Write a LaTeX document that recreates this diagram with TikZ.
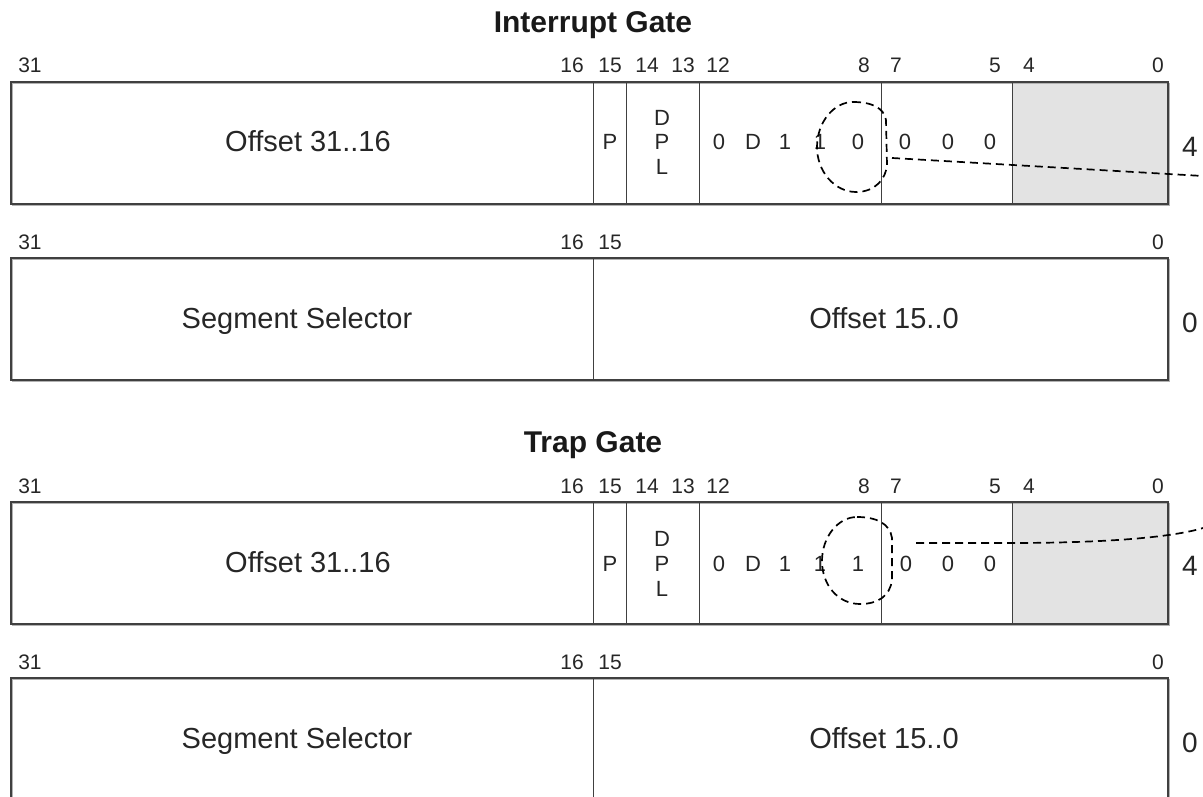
\documentclass[tikz,border=0pt]{standalone}
\usepackage{fontspec}
\setmainfont{Liberation Sans}
\begin{document}
\begin{tikzpicture}[x=1pt,y=-1pt,
  frame/.style={draw=black!75, line width=1.1pt},
  shade/.style={draw=black!30, line width=1.4pt},
  divider/.style={draw=black!75, line width=0.9pt},
  reserved/.style={fill=black!11},
  bits/.style={font=\fontsize{21}{24}\selectfont, text=black!85, inner sep=0, anchor=base},
  field/.style={font=\fontsize{29}{32}\selectfont, text=black!85, inner sep=0, anchor=base},
  small/.style={font=\fontsize{22}{26}\selectfont, text=black!85, inner sep=0, anchor=base},
  side/.style={font=\fontsize{28}{32}\selectfont, text=black!85, inner sep=0, anchor=base},
  title/.style={font=\bfseries\fontsize{30}{34}\selectfont, text=black!90, inner sep=0, anchor=base},
  flag/.style={draw=black, line width=1.7pt, dash pattern=on 8pt off 5pt}]
\useasboundingbox (0,0) rectangle (1203,797);
\clip (0,0) rectangle (1203,797);

% ---------------- titles
\node[title] (title1) at (593,33) {Interrupt Gate};
\node[title] (title2) at (593,452) {Trap Gate};

% ================= Interrupt gate, upper dword (top 82)
\fill[reserved] (1012,82) rectangle (1168,204);
\draw[shade] (12.5,83.5) rectangle (1169.5,205.5);
\draw[frame] (11,82) rectangle (1168,204);
\foreach \xx in {593,626.5,699,881,1012} \draw[divider] (\xx,82) -- (\xx,204);
\node[bits] (a31) at (30,73) {31};
\node[bits] (a16) at (572,73) {16};
\node[bits] (a15) at (610,73) {15};
\node[bits] (a14) at (647,73) {14};
\node[bits] (a13) at (683,73) {13};
\node[bits] (a12) at (718,73) {12};
\node[bits] (a8) at (864,73) {8};
\node[bits] (a7) at (896,73) {7};
\node[bits] (a5) at (995,73) {5};
\node[bits] (a4) at (1029,73) {4};
\node[bits] (a0) at (1158,73) {0};
\node[field] (aoff) at (308,152) {Offset 31..16};
\node[small] (ap) at (610,150) {P};
\node[small] (ad) at (662,126) {D};
\node[small] (app) at (662,150) {P};
\node[small] (al) at (662,175) {L};
\node[small] (ab12) at (719,150) {0};
\node[small] (ab11) at (753,150) {D};
\node[small] (ab10) at (785,150) {1};
\node[small] (ab9) at (820,150) {1};
\node[small] (ab8) at (858,150) {0};
\node[small] (ab7) at (905,150) {0};
\node[small] (ab6) at (948,150) {0};
\node[small] (ab5) at (990,150) {0};
\node[side] (aside) at (1190,157) {4};
\draw[flag] (853,102) .. controls (872,102) and (884,108) .. (886,120) -- (887,165)
  .. controls (886,178) and (876,192) .. (856,192)
  .. controls (835,192) and (817,172) .. (817,147)
  .. controls (817,122) and (834,102) .. (853,102);
\coordinate (da) at (892,158);
\coordinate (db) at (1203,176);
\draw[flag] (da) -- (db);

% ================= Interrupt gate, lower dword (top 258)
\draw[shade] (12.5,259.5) rectangle (1169.5,381.5);
\draw[frame] (11,258) rectangle (1168,380);
\draw[divider] (593,258) -- (593,380);
\node[bits] (b31) at (30,249) {31};
\node[bits] (b16) at (572,249) {16};
\node[bits] (b15) at (610,249) {15};
\node[bits] (b0) at (1158,249) {0};
\node[field] (bsel) at (297,328) {Segment Selector};
\node[field] (boff) at (884,328) {Offset 15..0};
\node[side] (bside) at (1190,332) {0};

% ================= Trap gate, upper dword (top 502)
\fill[reserved] (1012,502) rectangle (1168,624);
\draw[shade] (12.5,503.5) rectangle (1169.5,625.5);
\draw[frame] (11,502) rectangle (1168,624);
\foreach \xx in {593,626.5,699,881,1012} \draw[divider] (\xx,502) -- (\xx,624);
\node[bits] (c31) at (30,493) {31};
\node[bits] (c16) at (572,493) {16};
\node[bits] (c15) at (610,493) {15};
\node[bits] (c14) at (647,493) {14};
\node[bits] (c13) at (683,493) {13};
\node[bits] (c12) at (718,493) {12};
\node[bits] (c8) at (864,493) {8};
\node[bits] (c7) at (896,493) {7};
\node[bits] (c5) at (995,493) {5};
\node[bits] (c4) at (1029,493) {4};
\node[bits] (c0) at (1158,493) {0};
\node[field] (coff) at (308,572) {Offset 31..16};
\node[small] (cp) at (610,571) {P};
\node[small] (cd) at (662,546) {D};
\node[small] (cpp) at (662,571) {P};
\node[small] (cl) at (662,596) {L};
\node[small] (cb12) at (719,571) {0};
\node[small] (cb11) at (753,571) {D};
\node[small] (cb10) at (785,571) {1};
\node[small] (cb9) at (820,571) {1};
\node[small] (cb8) at (858,571) {1};
\node[small] (cb7) at (906,571) {0};
\node[small] (cb6) at (948,571) {0};
\node[small] (cb5) at (990,571) {0};
\node[side] (cside) at (1190,575) {4};
\draw[flag] (857,517) .. controls (877,517) and (890,524) .. (892,538) -- (892,580)
  .. controls (890,596) and (878,604) .. (860,604)
  .. controls (838,604) and (822,585) .. (822,561)
  .. controls (822,537) and (838,517) .. (857,517);
\coordinate (dc) at (916,543);
\coordinate (dm) at (1010,543);
\coordinate (dd) at (1203,528);
\draw[flag] (dc) -- (dm) .. controls (1100,543) and (1170,538) .. (dd);

% ================= Trap gate, lower dword (top 678)
\draw[shade] (12.5,679.5) rectangle (1169.5,801.5);
\draw[frame] (11,678) rectangle (1168,800);
\draw[divider] (593,678) -- (593,800);
\node[bits] (d31) at (30,669) {31};
\node[bits] (d16) at (572,669) {16};
\node[bits] (d15) at (610,669) {15};
\node[bits] (d0) at (1158,669) {0};
\node[field] (dsel) at (297,748) {Segment Selector};
\node[field] (doff) at (884,748) {Offset 15..0};
\node[side] (dside) at (1190,752) {0};
\end{tikzpicture}
\end{document}
